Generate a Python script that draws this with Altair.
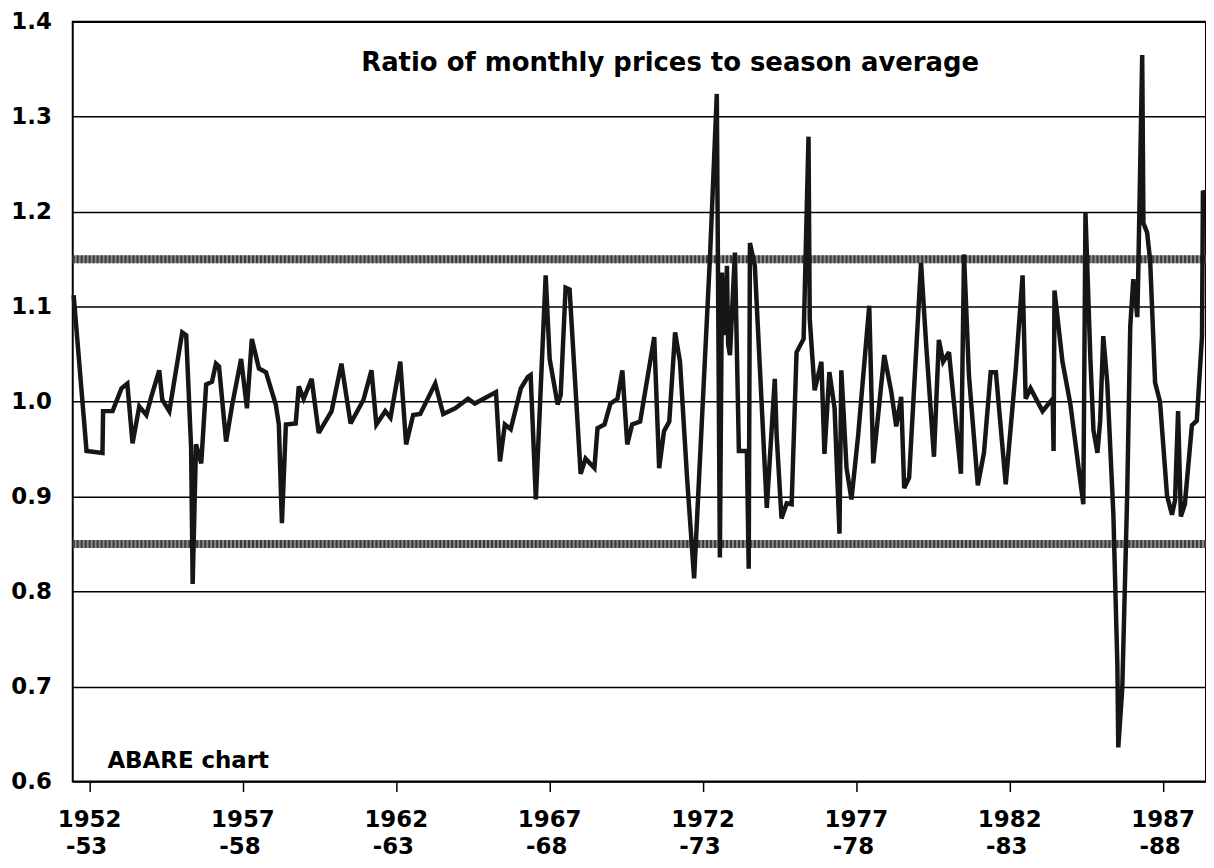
import altair as alt
import pandas as pd

# Season time (decimal year) and ratio of monthly price to season average
times = [
    1951.48, 1951.90, 1952.42, 1952.44, 1952.75, 1953.04, 1953.23, 1953.40, 1953.62, 1953.85,
    1954.01, 1954.27, 1954.37, 1954.60, 1955.02, 1955.15, 1955.31, 1955.36, 1955.47, 1955.64,
    1955.80, 1955.99, 1956.12, 1956.22, 1956.45, 1956.64, 1956.94, 1957.13, 1957.29, 1957.52,
    1957.75, 1958.07, 1958.17, 1958.27, 1958.40, 1958.72, 1958.82, 1958.98, 1959.24, 1959.47,
    1959.89, 1960.21, 1960.51, 1960.93, 1961.19, 1961.35, 1961.64, 1961.81, 1962.13, 1962.32,
    1962.55, 1962.78, 1963.27, 1963.53, 1963.92, 1964.34, 1964.56, 1965.25, 1965.38, 1965.54,
    1965.73, 1966.06, 1966.29, 1966.38, 1966.55, 1966.87, 1967.00, 1967.26, 1967.36, 1967.52,
    1967.65, 1968.01, 1968.17, 1968.46, 1968.56, 1968.79, 1968.98, 1969.21, 1969.37, 1969.53,
    1969.69, 1969.95, 1970.41, 1970.57, 1970.73, 1970.90, 1971.09, 1971.25, 1971.48, 1971.71,
    1972.23, 1972.45, 1972.55, 1972.62, 1972.66, 1972.70, 1972.74, 1972.78, 1972.82, 1972.88,
    1973.04, 1973.17, 1973.43, 1973.49,
    1973.53, 1973.69, 1974.08, 1974.34, 1974.40, 1974.56, 1974.73, 1974.89, 1975.05, 1975.28,
    1975.44, 1975.48, 1975.64, 1975.86, 1975.96, 1976.12, 1976.29, 1976.45, 1976.51, 1976.68,
    1976.84, 1977.06, 1977.42, 1977.55, 1977.91, 1978.14, 1978.30, 1978.46, 1978.56, 1978.72,
    1979.11, 1979.27, 1979.53, 1979.69, 1979.83, 1980.02, 1980.41, 1980.51, 1980.67, 1980.96,
    1981.16, 1981.38, 1981.55, 1981.87, 1982.19, 1982.42, 1982.52, 1982.68, 1983.07, 1983.40,
    1983.43, 1983.46, 1983.72, 1983.98, 1984.40, 1984.47, 1984.63, 1984.73, 1984.86, 1984.95,
    1985.05, 1985.18, 1985.38, 1985.51, 1985.54, 1985.67, 1985.83, 1985.93, 1986.03, 1986.16,
    1986.19, 1986.32, 1986.36, 1986.48, 1986.58, 1986.74, 1986.90, 1987.13, 1987.29, 1987.39,
    1987.49, 1987.58, 1987.71, 1987.94, 1988.10, 1988.27, 1988.30, 1988.36,
]
ratios = [
    1.112, 0.948, 0.946, 0.990, 0.990, 1.014, 1.019, 0.956, 0.995, 0.986,
    1.005, 1.033, 1.002, 0.990, 1.073, 1.070, 0.951, 0.808, 0.955, 0.935,
    1.018, 1.021, 1.040, 1.037, 0.958, 0.995, 1.045, 0.993, 1.066, 1.035,
    1.031, 0.997, 0.976, 0.872, 0.976, 0.977, 1.016, 1.003, 1.024, 0.967,
    0.990, 1.040, 0.977, 1.002, 1.033, 0.976, 0.990, 0.983, 1.042, 0.955,
    0.986, 0.987, 1.019, 0.987, 0.993, 1.003, 0.998, 1.010, 0.937, 0.976,
    0.971, 1.014, 1.026, 1.028, 0.897, 1.133, 1.045, 0.997, 1.007, 1.120,
    1.118, 0.924, 0.940, 0.930, 0.972, 0.976, 0.998, 1.003, 1.033, 0.955,
    0.976, 0.979, 1.068, 0.930, 0.969, 0.979, 1.073, 1.042, 0.920, 0.814,
    1.154, 1.324, 0.836, 1.136, 1.080, 1.130, 1.070, 1.143, 1.060, 1.049,
    1.157, 0.948, 0.948, 0.824,
    1.167, 1.143, 0.888, 1.024, 0.965, 0.877, 0.893, 0.892, 1.052, 1.066,
    1.279, 1.087, 1.012, 1.042, 0.945, 1.031, 0.993, 0.861, 1.033, 0.930,
    0.897, 0.965, 1.101, 0.935, 1.049, 1.010, 0.974, 1.005, 0.909, 0.920,
    1.146, 1.063, 0.942, 1.065, 1.042, 1.052, 0.924, 1.155, 1.028, 0.912,
    0.946, 1.031, 1.031, 0.913, 1.031, 1.133, 1.003, 1.014, 0.990, 1.003,
    0.948, 1.117, 1.042, 0.997, 0.892, 1.199, 1.045, 0.970, 0.946, 0.980,
    1.069, 1.020, 0.881, 0.723, 0.636, 0.698, 0.901, 1.079, 1.129, 1.089,
    1.133, 1.365, 1.188, 1.178, 1.148, 1.020, 1.000, 0.901, 0.881, 0.896,
    0.990, 0.879, 0.892, 0.975, 0.980, 1.069, 1.222, 1.218,
]

tick_years = [1952, 1957, 1962, 1967, 1972, 1977, 1982, 1987]
season_labels = ["-53", "-58", "-63", "-68", "-73", "-78", "-83", "-88"]
y_ticks = [0.6, 0.7, 0.8, 0.9, 1.0, 1.1, 1.2, 1.3, 1.4]
y_labels = ["0.6", "0.7", "0.8", "0.9", "1.0", "1.1", "1.2", "1.3", "1.4"]
band_levels = [0.85, 1.15]
title_text = "Ratio of monthly prices to season average"
source_text = "ABARE chart"

df = pd.DataFrame({"t": times, "r": ratios})
bands = pd.DataFrame({"r": band_levels})
xlab = pd.DataFrame({"t": tick_years, "yr": [str(v) for v in tick_years], "season": season_labels})
ylab = pd.DataFrame({"r": y_ticks, "lab": y_labels})

FONT = "DejaVu Sans"
W, H = 1138, 763
xdom = [1951.45, 1988.4]
ydom = [0.6, 1.4]

xscale = alt.Scale(domain=xdom, nice=False, zero=False)
yscale = alt.Scale(domain=ydom, nice=False, zero=False)

xaxis = alt.Axis(
    values=tick_years, title=None, grid=False, domain=False, labels=False,
    ticks=True, tickSize=10, tickWidth=1.5, tickColor="black",
)
yaxis = alt.Axis(
    values=y_ticks, title=None, grid=True, gridColor="black", gridWidth=1.5,
    domain=False, ticks=False, labels=False,
)

base = alt.Chart(df)

grid = base.mark_line(opacity=0).encode(
    x=alt.X("t:Q", scale=xscale, axis=xaxis),
    y=alt.Y("r:Q", scale=yscale, axis=yaxis),
)

band_fill = alt.Chart(bands).mark_rule(color="#8a8a8a", strokeWidth=8).encode(
    y=alt.Y("r:Q", scale=yscale)
)
band_hatch = alt.Chart(bands).mark_rule(
    color="#1a1a1a", strokeWidth=8, strokeDash=[2, 2], opacity=0.7
).encode(y=alt.Y("r:Q", scale=yscale))

line = base.mark_line(color="#161616", strokeWidth=4.5, strokeJoin="miter", strokeMiterLimit=3).encode(
    x=alt.X("t:Q", scale=xscale),
    y=alt.Y("r:Q", scale=yscale),
)

lab_style = dict(font=FONT, fontSize=23, fontWeight="bold", color="black")

ylabels = alt.Chart(ylab).mark_text(align="right", baseline="middle", **lab_style).encode(
    x=alt.value(-21), y=alt.Y("r:Q", scale=yscale), text="lab:N"
)
xlabels_year = alt.Chart(xlab).mark_text(align="center", baseline="alphabetic", **lab_style).encode(
    x=alt.X("t:Q", scale=xscale), y=alt.value(H + 46), text="yr:N"
)
xlabels_season = alt.Chart(xlab).mark_text(align="center", baseline="alphabetic", dx=-3, **lab_style).encode(
    x=alt.X("t:Q", scale=xscale), y=alt.value(H + 73), text="season:N"
)

title = alt.Chart(pd.DataFrame({"t": [1970.93], "r": [1.356], "s": [title_text]})).mark_text(
    font=FONT, fontSize=26, fontWeight="bold", color="black", align="center", baseline="middle",
).encode(x=alt.X("t:Q", scale=xscale), y=alt.Y("r:Q", scale=yscale), text="s:N")

source = alt.Chart(pd.DataFrame({"t": [1952.58], "r": [0.622], "s": [source_text]})).mark_text(
    font=FONT, fontSize=23, fontWeight="bold", color="black", align="left", baseline="middle",
).encode(x=alt.X("t:Q", scale=xscale), y=alt.Y("r:Q", scale=yscale), text="s:N")

chart = alt.layer(
    grid, band_fill, band_hatch, line, title, source, ylabels, xlabels_year, xlabels_season
).properties(
    width=W, height=H,
    autosize=alt.AutoSizeParams(type="none"),
    padding={"left": 65, "top": 12, "right": 0, "bottom": 77},
    background="white",
).configure_view(stroke="black", strokeWidth=2)

chart.save("out.html", embed_options={"renderer": "svg", "actions": False})
